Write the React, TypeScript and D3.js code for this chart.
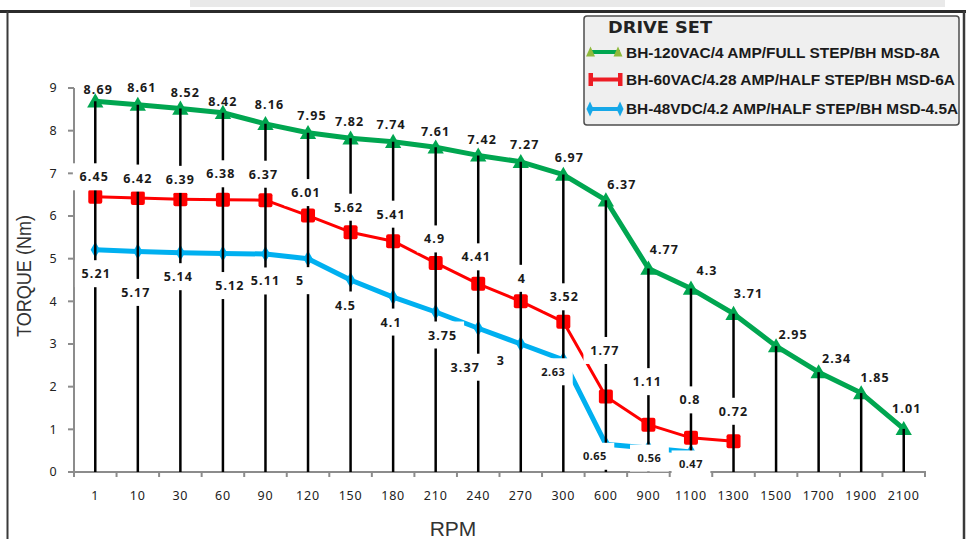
import React from 'react'
import * as d3 from 'd3'

// RPM categories along the x axis
const rpm = ['1', '10', '30', '60', '90', '120', '150', '180', '210', '240', '270', '300', '600', '900', '1100', '1300', '1500', '1700', '1900', '2100']

// torque (Nm) per drive set
const torque120 = [8.69, 8.61, 8.52, 8.42, 8.16, 7.95, 7.82, 7.74, 7.61, 7.42, 7.27, 6.97, 6.37, 4.77, 4.3, 3.71, 2.95, 2.34, 1.85, 1.01]
const torque60 = [6.45, 6.42, 6.39, 6.38, 6.37, 6.01, 5.62, 5.41, 4.9, 4.41, 4, 3.52, 1.77, 1.11, 0.8, 0.72]
const torque48 = [5.21, 5.17, 5.14, 5.12, 5.11, 5, 4.5, 4.1, 3.75, 3.37, 3, 2.63, 0.65, 0.56, 0.47]

const yTicks = [0, 1, 2, 3, 4, 5, 6, 7, 8, 9]

const legendNames = [
  'BH-120VAC/4 AMP/FULL STEP/BH MSD-8A',
  'BH-60VAC/4.28 AMP/HALF STEP/BH MSD-6A',
  'BH-48VDC/4.2 AMP/HALF STEP/BH MSD-4.5A',
]

// hand placed data labels (pixel nudge from the point), like the source sheet
const nudge120: [number, number][] = [
  [3, -12], [4, -17], [5, -16], [0, -11], [4, -19], [4, -17], [-1, -17], [-2, -17], [0, -16], [4, -16],
  [4, -17], [6, -17], [16, -16], [16, -19], [16, -18], [15, -20], [17, -12], [18, -14], [14, -16], [3, -20],
]
const nudge60: [number, number][] = [
  [-1, -20], [0, -20], [0, -20], [-2, -26], [-2, -26], [-2, -23], [-2, -25], [-2, -27], [-1, -24], [-2, -27],
  [1, -23], [1, -25], [-1, -46], [-1, -43], [-1, -38], [0, -30],
]
const nudge48: [number, number][] = [
  [1, 24], [-2, 41], [-2, 24], [7, 32], [0, 27], [-8, 22], [-5, 25], [-2, 25], [7, 23], [-13, 39],
  [-20, 16], [-10, 12], [-11, 12], [1, 10], [0, 12],
]

const GREEN = '#00a650'
const RED = '#ff0000'
const BLUE = '#00b0f0'
const FONT = '"Noto Sans", "Open Sans", sans-serif'
const ARIAL = '"Liberation Sans", Arial, sans-serif'

export default function App() {
  const width = 970
  const height = 539
  const left = 74
  const right = 925
  const top = 88
  const bottom = 472

  const x = d3.scaleBand<string>().domain(rpm).range([left, right]).paddingInner(0).paddingOuter(0)
  const y = d3.scaleLinear().domain([0, 9]).range([bottom, top])
  const cx = (i: number) => (x(rpm[i]) as number) + x.bandwidth() / 2

  const line = d3.line<number>().x((_, i) => cx(i)).y(d => y(d))

  const tri = d3.symbol().type(d3.symbolTriangle).size(115)()
  const dia = d3.symbol().type(d3.symbolDiamond).size(75)()

  // boxed = label has a white background that hides the drop line behind it
  const labels: { text: string; x: number; y: number; small: boolean; boxed: boolean }[] = []
  torque120.forEach((v, i) =>
    labels.push({ text: String(v), x: cx(i) + nudge120[i][0], y: y(v) + nudge120[i][1], small: false, boxed: false })
  )
  torque60.forEach((v, i) =>
    labels.push({ text: String(v), x: cx(i) + nudge60[i][0], y: y(v) + nudge60[i][1], small: false, boxed: true })
  )
  torque48.forEach((v, i) =>
    labels.push({ text: String(v), x: cx(i) + nudge48[i][0], y: y(v) + nudge48[i][1], small: i >= 11, boxed: true })
  )

  const boundaries = rpm.map(c => x(c) as number).concat([right])

  return (
    <svg
      width={width}
      height={height}
      style={{ position: 'absolute', left: 0, top: 0, background: '#fff' }}
    >
      {/* page frame */}
      <rect x={190} y={0} width={755} height={7} fill="#e9e9e9" />
      <line x1={0} y1={11.5} x2={966} y2={11.5} stroke="#2b2b2b" strokeWidth={3} />
      <line x1={7.5} y1={11} x2={7.5} y2={height} stroke="#3a3a3a" strokeWidth={2} />
      <line x1={964} y1={11} x2={964} y2={height} stroke="#3a3a3a" strokeWidth={2.5} />

      {/* axes */}
      <line x1={left} y1={top} x2={left} y2={bottom} stroke="#8c8c8c" strokeWidth={2} />
      {yTicks.map(t => (
        <g key={'y' + t}>
          <line x1={left - 6} y1={y(t)} x2={left} y2={y(t)} stroke="#8c8c8c" strokeWidth={2} />
          <text x={53} y={y(t)} dy="0.35em" textAnchor="middle" fontFamily={FONT} fontSize={12.5} fill="#222">
            {t}
          </text>
        </g>
      ))}
      <line x1={left - 1} y1={bottom} x2={right + 1} y2={bottom} stroke="#8c8c8c" strokeWidth={2} />
      {boundaries.map((bx, i) => (
        <line key={'xt' + i} x1={bx} y1={bottom} x2={bx} y2={bottom + 5} stroke="#8c8c8c" strokeWidth={2} />
      ))}
      {rpm.map((c, i) => (
        <text
          key={'xl' + c}
          x={cx(i)}
          y={500}
          textAnchor="middle"
          fontFamily={FONT}
          fontSize={12.5}
          letterSpacing={0.8}
          fill="#222"
        >
          {c}
        </text>
      ))}

      <text
        transform="translate(31,276) rotate(-90)"
        textAnchor="middle"
        fontFamily={ARIAL}
        fontSize={21}
        textLength={122}
        lengthAdjust="spacingAndGlyphs"
        fill="#333"
      >
        TORQUE (Nm)
      </text>
      <text x={453} y={536} textAnchor="middle" fontFamily={ARIAL} fontSize={21} fill="#333">
        RPM
      </text>

      {/* series */}
      <path d={line(torque48) || ''} fill="none" stroke={BLUE} strokeWidth={5} strokeLinejoin="round" />
      {torque48.map((v, i) => (
        <path key={'b' + i} d={dia || ''} transform={`translate(${cx(i)},${y(v)})`} fill={BLUE} />
      ))}
      <path d={line(torque60) || ''} fill="none" stroke={RED} strokeWidth={3} strokeLinejoin="round" />
      {torque60.map((v, i) => (
        <rect key={'r' + i} x={cx(i) - 7} y={y(v) - 7} width={14} height={14} rx={2} fill={RED} />
      ))}
      <path d={line(torque120) || ''} fill="none" stroke={GREEN} strokeWidth={5} strokeLinejoin="round" />
      {torque120.map((v, i) => (
        <path key={'g' + i} d={tri || ''} transform={`translate(${cx(i)},${y(v) + 1.5})`} fill={GREEN} />
      ))}

      {/* drop lines */}
      {torque120.map((v, i) => (
        <line key={'d' + i} x1={cx(i)} y1={y(v)} x2={cx(i)} y2={bottom} stroke="#000" strokeWidth={2.5} />
      ))}

      {/* data labels */}
      {labels.map((l, i) => {
        const fs = l.small ? 11 : 12.5
        const w = l.text.length * (l.small ? 6.2 : 7.2) + 14
        return (
          <g key={'lab' + i}>
            {l.boxed && <rect x={l.x - w / 2} y={l.y - 13.5} width={w} height={27} fill="#fff" />}
            <text
              x={l.x}
              y={l.y}
              dy="0.36em"
              textAnchor="middle"
              fontFamily={FONT}
              fontWeight={700}
              fontSize={fs}
              letterSpacing={l.small ? 0.5 : 1.1}
              fill="#1a1a1a"
            >
              {l.text}
            </text>
          </g>
        )
      })}

      {/* legend */}
      <rect x={584} y={16} width={375} height={109} rx={3} fill="#efefef" stroke="#4d4d4d" strokeWidth={1.5} />
      <text
        x={608}
        y={33}
        fontFamily='"DejaVu Sans", sans-serif'
        fontWeight={700}
        fontSize={16}
        textLength={104}
        lengthAdjust="spacingAndGlyphs"
        fill="#222"
      >
        DRIVE SET
      </text>
      {/* green entry */}
      <line x1={590} y1={52} x2={620} y2={52} stroke={GREEN} strokeWidth={4} />
      <path d="M586,56.5 L590.5,46.5 L595,56.5 Z" fill="#8fba3c" />
      <path d="M613.5,56.5 L618,46.5 L622.5,56.5 Z" fill="#8fba3c" />
      {/* red entry */}
      <line x1={590} y1={79.5} x2={621} y2={79.5} stroke="#ed1c24" strokeWidth={4} />
      <rect x={588.5} y={73} width={4.5} height={13} fill="#ed1c24" />
      <rect x={618} y={73} width={4.5} height={13} fill="#ed1c24" />
      {/* blue entry */}
      <line x1={590} y1={109} x2={620} y2={109} stroke="#16a8e8" strokeWidth={4} />
      <path d="M590,101.5 L593.5,109 L590,116.5 L586.5,109 Z" fill="#16a8e8" />
      <path d="M620,101.5 L623.5,109 L620,116.5 L616.5,109 Z" fill="#16a8e8" />
      {legendNames.map((n, i) => (
        <text
          key={n}
          x={626}
          y={[57.5, 84.5, 113.5][i]}
          fontFamily={ARIAL}
          fontWeight={700}
          fontSize={14}
          textLength={[314, 329, 332][i]}
          lengthAdjust="spacingAndGlyphs"
          fill="#1a1a1a"
        >
          {n}
        </text>
      ))}
    </svg>
  )
}
